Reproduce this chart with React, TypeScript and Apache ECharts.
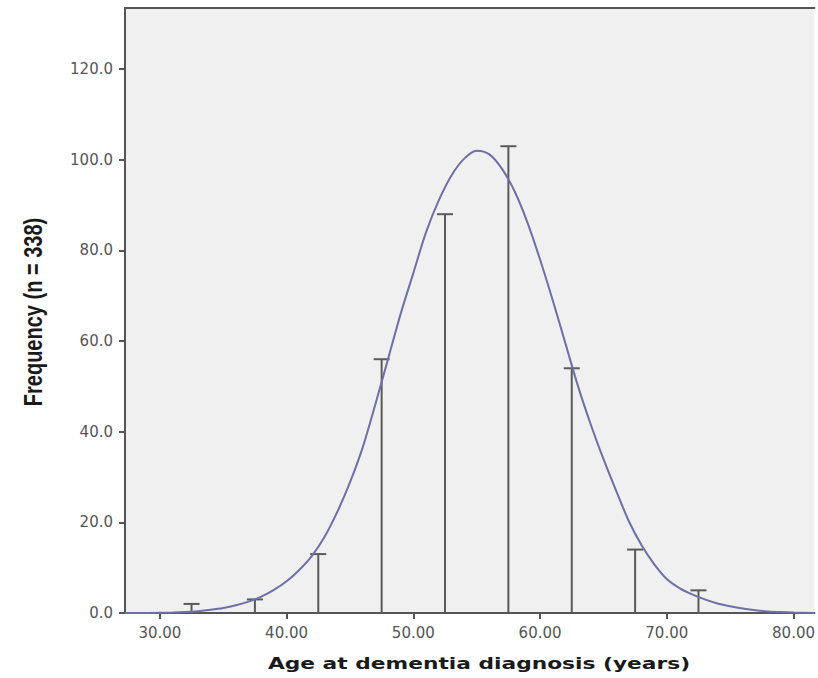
import React, { useEffect, useRef } from "react";
import * as echarts from "echarts";

// Histogram spikes (bin mid-points, counts) – n = 338
const binMids = [32.5, 37.5, 42.5, 47.5, 52.5, 57.5, 62.5, 67.5, 72.5];
const binCounts = [2, 3, 13, 56, 88, 103, 54, 14, 5];

// Fitted normal curve
const curveX = [27.25, 29, 31, 32, 33, 34, 35, 36, 37, 38, 39, 40, 41, 42, 43, 44, 45, 46, 47, 48, 49, 50, 51, 52, 53, 54, 55, 56, 57, 58, 59, 60, 61, 62, 63, 64, 65, 66, 67, 68, 69, 70, 71, 72, 73, 74, 75, 76, 77, 78, 79, 80, 81.65];
const curveY = [0, 0.02, 0.1, 0.2, 0.4, 0.7, 1.1, 1.7, 2.5, 3.6, 5.1, 7.0, 9.5, 12.6, 16.8, 22.3, 28.8, 36.5, 46, 56, 66, 75, 84, 91, 96.5, 100.2, 102, 101.2, 98, 93, 86.2, 78, 69, 59.5, 50, 41.6, 34, 27, 20.3, 15, 10.8, 7.5, 5.5, 4.1, 3.0, 2.1, 1.5, 1.0, 0.6, 0.35, 0.2, 0.1, 0.02];

const xTicks = [30, 40, 50, 60, 70, 80];
const yTicks = [0, 20, 40, 60, 80, 100, 120];

const xTitle = "Age at dementia diagnosis (years)";
const yTitle = "Frequency (n = 338)";

export default function App() {
  const ref = useRef<HTMLDivElement>(null);
  useEffect(() => {
    if (!ref.current) return;
    const chart = echarts.init(ref.current, null, { renderer: "svg" });
    const axisColor = "#555555";
    const labelStyle = { fontFamily: "DejaVu Sans", fontSize: 15, color: "#555555" };
    chart.setOption({
      animation: false,
      backgroundColor: "#ffffff",
      grid: {
        left: 125,
        top: 8,
        right: 0,
        bottom: 65,
        show: true,
        backgroundColor: "#f0f0f0",
        borderWidth: 0,
      },
      xAxis: [
        {
          type: "value",
          min: 27.25,
          max: 81.65,
          axisLine: { show: true, lineStyle: { color: axisColor, width: 2 } },
          axisTick: { show: true, length: 6, customValues: xTicks, lineStyle: { color: axisColor, width: 2 } },
          axisLabel: {
            ...labelStyle,
            margin: 12,
            customValues: xTicks,
            formatter: (v: number) => v.toFixed(2),
          },
          splitLine: { show: false },
        },
        {
          type: "value",
          position: "top",
          min: 27.25,
          max: 81.65,
          axisLine: { show: true, lineStyle: { color: axisColor, width: 2 } },
          axisTick: { show: false },
          axisLabel: { show: false },
          splitLine: { show: false },
        },
      ],
      yAxis: {
        type: "value",
        min: 0,
        max: 133.5,
        axisLine: { show: true, lineStyle: { color: axisColor, width: 2 } },
        axisTick: { show: true, length: 6, customValues: yTicks, lineStyle: { color: axisColor, width: 2 } },
        axisLabel: {
          ...labelStyle,
          margin: 12,
          customValues: yTicks,
          formatter: (v: number) => v.toFixed(1),
        },
        splitLine: { show: false },
      },
      series: [
        {
          type: "custom",
          z: 2,
          data: binMids.map((m, i) => [m, binCounts[i]]),
          renderItem: (params: any, api: any) => {
            const x = api.value(0);
            const v = api.value(1);
            const base = api.coord([x, 0]);
            const top = api.coord([x, v]);
            return {
              type: "group",
              children: [
                {
                  type: "line",
                  shape: { x1: base[0], y1: base[1], x2: top[0], y2: top[1] },
                  style: { stroke: "#5a5a5a", lineWidth: 2 },
                },
                {
                  type: "line",
                  shape: { x1: top[0] - 8, y1: top[1], x2: top[0] + 8, y2: top[1] },
                  style: { stroke: "#5a5a5a", lineWidth: 2 },
                },
              ],
            };
          },
        },
        {
          type: "line",
          z: 3,
          data: curveX.map((x, i) => [x, curveY[i]]),
          smooth: 0.3,
          showSymbol: false,
          lineStyle: { color: "#6c6fa8", width: 2 },
        },
      ],
      graphic: [
        {
          type: "text",
          x: 479,
          y: 664,
          scaleX: 1.36,
          style: {
            text: xTitle,
            font: "bold 16px 'DejaVu Sans'",
            fill: "#1a1a1a",
            textAlign: "center",
            textVerticalAlign: "middle",
          },
        },
        {
          type: "text",
          x: 33,
          y: 312,
          rotation: Math.PI / 2,
          scaleY: 1.3,
          style: {
            text: yTitle,
            font: "bold 20px 'Liberation Sans'",
            fill: "#1a1a1a",
            textAlign: "center",
            textVerticalAlign: "middle",
          },
        },
      ],
    });
    return () => chart.dispose();
  }, []);
  return <div ref={ref} style={{ width: 818, height: 678, position: "absolute", left: 0, top: 0 }} />;
}
